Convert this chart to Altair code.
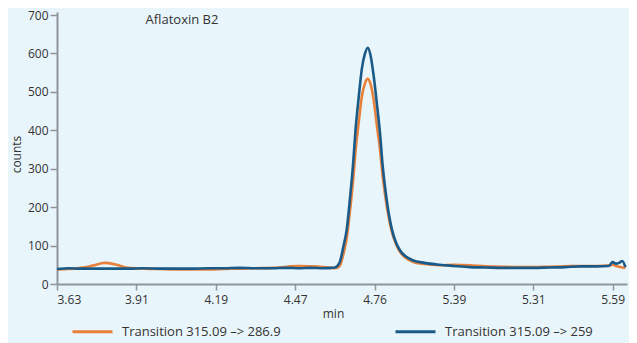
import altair as alt
import pandas as pd

x_labels = ["3.63", "3.91", "4.19", "4.47", "4.76", "5.39", "5.31", "5.59"]
y_ticks = [0, 100, 200, 300, 400, 500, 600, 700]

positions = [0.00, 0.15, 0.30, 0.45, 0.60, 0.75, 0.90, 1.10, 1.30, 1.50,
             1.70, 1.90, 2.10, 2.30, 2.50, 2.70, 2.90, 3.05, 3.20, 3.35,
             3.45, 3.50, 3.56, 3.61, 3.65, 3.69, 3.73, 3.76, 3.80, 3.84,
             3.88, 3.915, 3.95, 3.99, 4.03, 4.07, 4.10, 4.14, 4.18, 4.22,
             4.27, 4.32, 4.39, 4.48, 4.63, 4.82, 5.00, 5.20, 5.40, 5.60,
             5.80, 6.00, 6.20, 6.40, 6.60, 6.80, 6.95, 7.00, 7.04, 7.08,
             7.12, 7.16]

orange_counts = [38, 39, 42, 48, 55, 50, 42, 40, 39, 38,
                 38, 38, 39, 40, 41, 42, 45, 47, 46, 44,
                 42, 41, 47, 80, 120, 190, 270, 345, 420, 488,
                 523, 534, 520, 478, 412, 348, 285, 222, 172, 134,
                 104, 84, 68, 58, 52, 49, 50, 49, 46, 45,
                 44, 44, 45, 46, 47, 47, 48, 50, 47, 45,
                 43, 42]

blue_counts = [39, 41, 40, 40, 40, 40, 40, 41, 40, 40,
               40, 41, 41, 42, 41, 41, 42, 41, 42, 41,
               42, 43, 56, 100, 142, 222, 313, 400, 485, 560,
               600, 615, 595, 540, 468, 390, 313, 240, 182, 141,
               108, 88, 72, 62, 55, 50, 47, 44, 43, 42,
               42, 42, 43, 44, 46, 46, 47, 57, 53, 55,
               60, 44]

series_names = ["Transition 315.09 \u2013> 286.9", "Transition 315.09 \u2013> 259"]
series_colors = ["#e8803a", "#1a5a88"]
chart_title = "Aflatoxin B2"

rows = []
for name, vals in zip(series_names, [orange_counts, blue_counts]):
    for p, v in zip(positions, vals):
        rows.append({"pos": p, "counts": v, "series": name})
df = pd.DataFrame(rows)

label_expr = "[" + ",".join(f"'{l}'" for l in x_labels) + "][datum.value]"

FONT = "Open Sans"
AXIS_COLOR = "#8d969c"
TEXT_COLOR = "#333333"

x_enc = alt.X(
    "pos:Q",
    scale=alt.Scale(domain=[0, 7.18], nice=False, zero=False),
    axis=alt.Axis(values=list(range(len(x_labels))), labelExpr=label_expr,
                  title="min", grid=False, labelFont=FONT, labelFontSize=12,
                  labelColor=TEXT_COLOR, titleFont=FONT, titleFontSize=12,
                  titleFontWeight="normal", titleColor=TEXT_COLOR,
                  titleX=276, titleY=33, titleBaseline="alphabetic",
                  domainColor=AXIS_COLOR, domainWidth=2, tickColor=AXIS_COLOR,
                  tickWidth=1.5, tickSize=6, labelPadding=4),
)
y_enc = alt.Y(
    "counts:Q",
    scale=alt.Scale(domain=[0, 708], nice=False),
    axis=alt.Axis(values=y_ticks, title="counts", grid=False, labelFont=FONT,
                  labelFontSize=12, labelColor=TEXT_COLOR, titleFont=FONT,
                  titleFontSize=12, titleFontWeight="normal",
                  titleColor=TEXT_COLOR, titleX=-34, titleY=142,
                  domainColor=AXIS_COLOR, domainWidth=2, tickColor=AXIS_COLOR,
                  tickWidth=1.5, tickSize=7, labelPadding=2),
)
color_enc = alt.Color(
    "series:N",
    scale=alt.Scale(domain=series_names, range=series_colors),
    title=None,
    legend=alt.Legend(orient="none", legendX=14, legendY=298,
                      direction="horizontal", symbolType="stroke",
                      symbolSize=1600, symbolStrokeWidth=3, labelFont=FONT,
                      labelFontSize=13, labelColor=TEXT_COLOR, labelOffset=8,
                      columnPadding=108, padding=0, labelLimit=400),
)

base = alt.Chart(df).mark_line(strokeWidth=2.6, interpolate="monotone").encode(
    x=x_enc, y=y_enc, color=color_enc
)
orange_layer = base.transform_filter(alt.datum.series == series_names[0])
blue_layer = base.transform_filter(alt.datum.series == series_names[1])

title_layer = alt.Chart(pd.DataFrame({"t": [chart_title]})).mark_text(
    font=FONT, fontSize=13, color=TEXT_COLOR, align="center", baseline="middle"
).encode(text="t:N", x=alt.value(125), y=alt.value(8))

chart = alt.layer(orange_layer, blue_layer, title_layer).properties(
    width=570, height=272, autosize="none",
    padding={"left": 49, "top": 4, "right": 2, "bottom": 59},
).configure(background="#e8f5fa").configure_view(strokeWidth=0)

chart.save("out.html", embed_options={"renderer": "svg", "actions": False})
